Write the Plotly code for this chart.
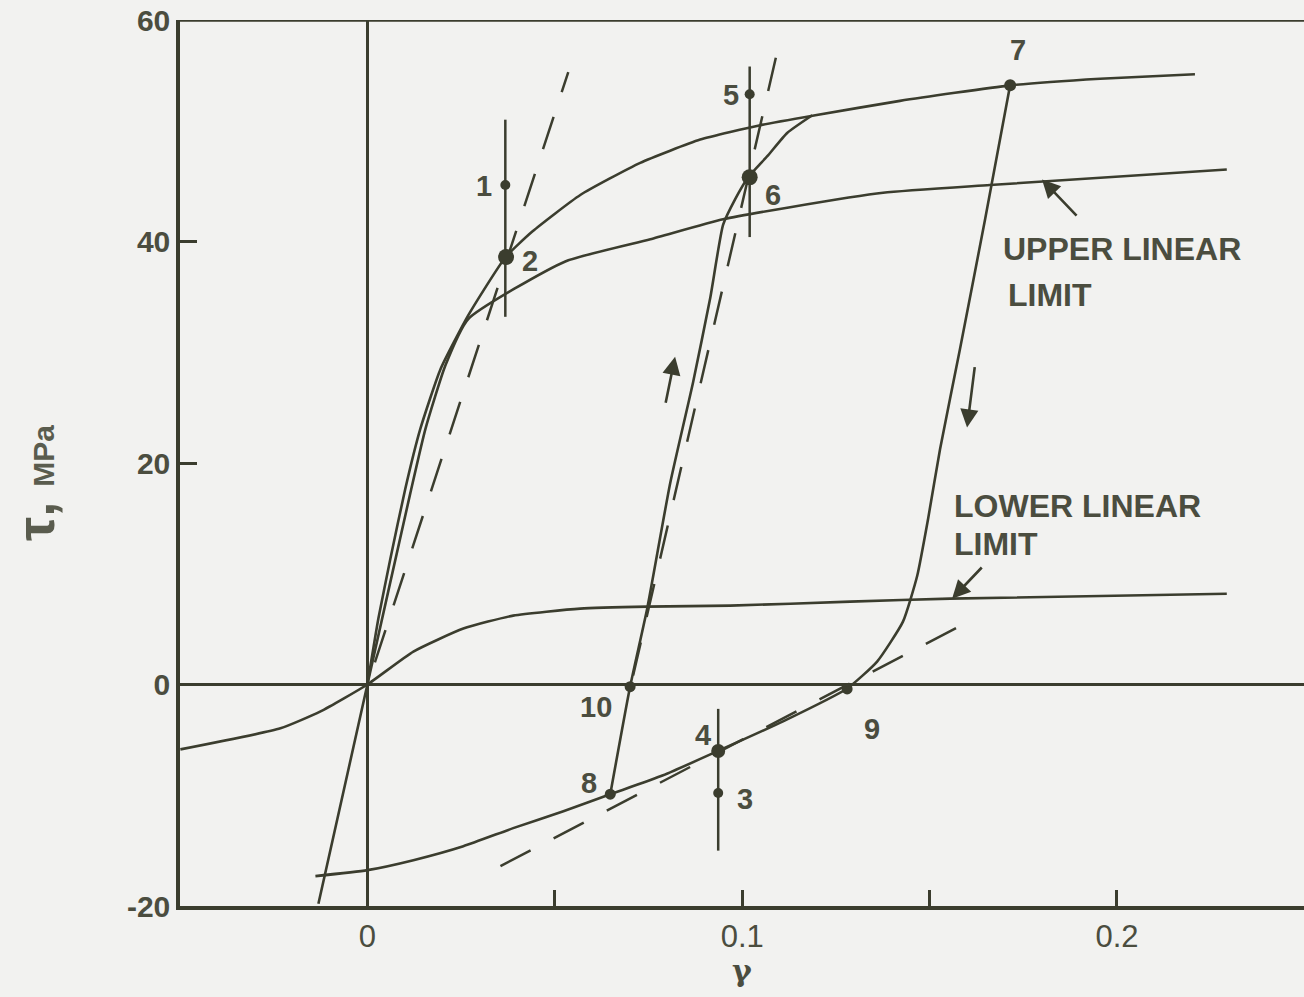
import plotly.graph_objects as go

# ---------------- data ----------------
# outer loading curve (origin -> 2 -> 6 junction -> end)
a_x = [0, 0.00293, 0.00613, 0.0101, 0.0141, 0.0195, 0.0269, 0.0368, 0.0440, 0.0568,
       0.0728, 0.0888, 0.1048, 0.1195, 0.1421, 0.1715, 0.1955, 0.2208]
a_y = [0, 5.95, 11.35, 17.66, 23.06, 28.47, 33.33, 38.56, 40.9, 44.2,
       47.1, 49.2, 50.5, 51.4, 52.7, 54.1, 54.7, 55.1]

# initial straight line + upper linear limit
b_x = [-0.01307, 0, 0.01147, 0.01547, 0.0208, 0.0269, 0.0528, 0.0755, 0.0949,
       0.1128, 0.1376, 0.1661, 0.2293]
b_y = [-19.8, 0, 17.3, 23.06, 28.8, 33.0, 38.2, 40.2, 42.0, 43.1, 44.4, 45.1, 46.5]

# lower linear limit
c_x = [-0.0499, -0.0232, -0.0125, 0, 0.01227, 0.0256, 0.0389, 0.0568, 0.0747,
       0.0968, 0.1288, 0.1555, 0.2293]
c_y = [-5.86, -3.96, -2.43, 0, 2.97, 5.05, 6.22, 6.85, 7.03, 7.12, 7.48, 7.75, 8.2]

# lower reversal curve (through 8, 4, 9) and unloading branch up to 7
d_x = [-0.01387, 0, 0.01227, 0.0256, 0.0389, 0.0523, 0.0648, 0.0789, 0.0933,
       0.1109, 0.128, 0.136, 0.1429, 0.1467, 0.1496, 0.1528, 0.1581, 0.1648, 0.1715]
d_y = [-17.3, -16.76, -15.86, -14.6, -12.97, -11.44, -9.91, -8.2, -6.04,
       -3.33, -0.36, 2.07, 5.68, 9.82, 14.95, 21.26, 30.27, 41.98, 54.14]

# reloading branch 8 -> 10 -> 6 -> outer curve
e_x = [0.0648, 0.0701, 0.0747, 0.0808, 0.0869, 0.0915, 0.0949, 0.0981, 0.1016,
       0.1067, 0.112, 0.1187]
e_y = [-9.91, -0.18, 6.94, 18.2, 27.3, 34.95, 41.5, 43.8, 45.8, 47.7, 49.8, 51.4]

# dashed straight lines (start, end)
dash1_x = [0.002, 0.0536]
dash1_y = [2.0, 55.3]
dash2_x = [0.0709, 0.1096]
dash2_y = [0.81, 57.5]
dash3_x = [0.0355, 0.1629]
dash3_y = [-16.4, 6.13]

# numbered points
pt_labels = ["1", "2", "3", "4", "5", "6", "7", "8", "9", "10"]
pt_x = [0.0368, 0.0370, 0.0936, 0.0936, 0.1020, 0.1020, 0.1715, 0.0648, 0.1280, 0.0701]
pt_y = [45.1, 38.6, -9.8, -6.0, 53.3, 45.8, 54.1, -9.9, -0.4, -0.2]
pt_size = [10, 16, 10, 14, 10, 16, 12, 11, 11, 11]
lab_x = [0.0312, 0.0435, 0.1008, 0.0896, 0.0971, 0.1083, 0.1736, 0.0592, 0.1347, 0.0611]
lab_y = [45.0, 38.2, -10.3, -4.6, 53.2, 44.2, 57.3, -8.9, -4.0, -2.0]

# vertical bars through points
bar_x = [0.0368, 0.1020, 0.0936]
bar_y0 = [51.0, 55.8, -2.2]
bar_y1 = [33.2, 40.4, -15.0]

x_ticks = [0, 0.05, 0.1, 0.15, 0.2]
x_tick_text = ["0", "", "0.1", "", "0.2"]
y_ticks = [-20, 0, 20, 40, 60]
y_tick_text = ["-20", "0", "20", "40", "60"]

# ---------------- style ----------------
INK = "#3b3d2e"
TXT = "#4b4d3f"
BG = "#f2f2f0"
LW = 2.6

fig = go.Figure()

def curve(xs, ys, width=LW, dash=None):
    fig.add_trace(go.Scatter(x=xs, y=ys, mode="lines",
                             line=dict(color=INK, width=width, dash=dash, shape="spline", smoothing=0.5),
                             showlegend=False, hoverinfo="skip"))

curve(a_x, a_y)
curve(b_x, b_y)
curve(c_x, c_y)
curve(d_x, d_y)
curve(e_x, e_y)
for dx, dy in [(dash1_x, dash1_y), (dash2_x, dash2_y), (dash3_x, dash3_y)]:
    fig.add_trace(go.Scatter(x=dx, y=dy, mode="lines",
                             line=dict(color=INK, width=2.5, dash="34px,26px"),
                             showlegend=False, hoverinfo="skip"))

for bx, b0, b1 in zip(bar_x, bar_y0, bar_y1):
    fig.add_trace(go.Scatter(x=[bx, bx], y=[b0, b1], mode="lines",
                             line=dict(color=INK, width=2.5),
                             showlegend=False, hoverinfo="skip"))

fig.add_trace(go.Scatter(x=pt_x, y=pt_y, mode="markers",
                         marker=dict(color=INK, size=pt_size, opacity=1,
                                     line=dict(width=0)),
                         showlegend=False, hoverinfo="skip"))

for t, lx, ly in zip(pt_labels, lab_x, lab_y):
    fig.add_annotation(x=lx, y=ly, text="<b>%s</b>" % t, showarrow=False,
                       font=dict(family="Liberation Sans, Arial", size=29, color=TXT))

def label(x, y, text):
    fig.add_annotation(x=x, y=y, text="<b>%s</b>" % text, showarrow=False, xanchor="left",
                       font=dict(family="Liberation Sans, Arial", size=32, color=TXT))

label(0.1690, 39.3, "UPPER LINEAR")
label(0.1705, 35.2, "LIMIT")
label(0.1560, 16.1, "LOWER LINEAR")
label(0.1560, 12.7, "LIMIT")

def arrow(x0, y0, x1, y1):
    fig.add_annotation(x=x1, y=y1, ax=x0, ay=y0, xref="x", yref="y", axref="x", ayref="y",
                       text="", showarrow=True, arrowhead=2, arrowsize=1.4,
                       arrowwidth=2.6, arrowcolor=INK)

arrow(0.1896, 42.2, 0.1800, 45.6)
arrow(0.1643, 10.7, 0.1560, 7.75)
arrow(0.0795, 25.3, 0.0821, 29.6)
arrow(0.1621, 28.8, 0.1600, 23.2)

# top frame line
fig.add_shape(type="line", xref="paper", yref="y", x0=0, x1=1, y0=60, y1=60,
              line=dict(color=INK, width=3.5))

fig.add_annotation(x=0.5, y=-0.095, xref="x domain", yref="paper", text="<b>γ</b>", showarrow=False,
                   font=dict(family="DejaVu Serif", size=30, color=TXT))
fig.add_annotation(x=-0.157, y=0.477, xref="paper", yref="paper",
                   text="<b>τ,</b> <b><span style='font-size:30px'>MPa</span></b>",
                   textangle=-90, showarrow=False,
                   font=dict(family="Liberation Sans, Arial", size=54, color="#5a5c4e"))

fig.update_layout(
    width=1304, height=997,
    margin=dict(l=180, r=0, t=20, b=91),
    paper_bgcolor=BG, plot_bgcolor=BG,
    xaxis=dict(range=[-0.05, 0.2499], tickvals=x_ticks, ticktext=x_tick_text,
               ticks="inside", ticklen=16, tickwidth=2.5, tickcolor=INK,
               showline=True, linecolor=INK, linewidth=3.5,
               showgrid=False, zeroline=True, zerolinecolor=INK, zerolinewidth=2.6,
               tickfont=dict(family="Liberation Sans Narrow, Arial Narrow, Liberation Sans", size=31, color=TXT)),
    yaxis=dict(range=[-20, 60], tickvals=y_ticks, ticktext=["<b>%s</b>" % t for t in y_tick_text],
               ticks="inside", ticklen=17, tickwidth=2.5, tickcolor=INK,
               showline=True, linecolor=INK, linewidth=3.5,
               showgrid=False, zeroline=True, zerolinecolor=INK, zerolinewidth=2.6,
               tickfont=dict(family="Liberation Sans, Arial", size=30, color=TXT)),
)

fig.write_html("out.html")
